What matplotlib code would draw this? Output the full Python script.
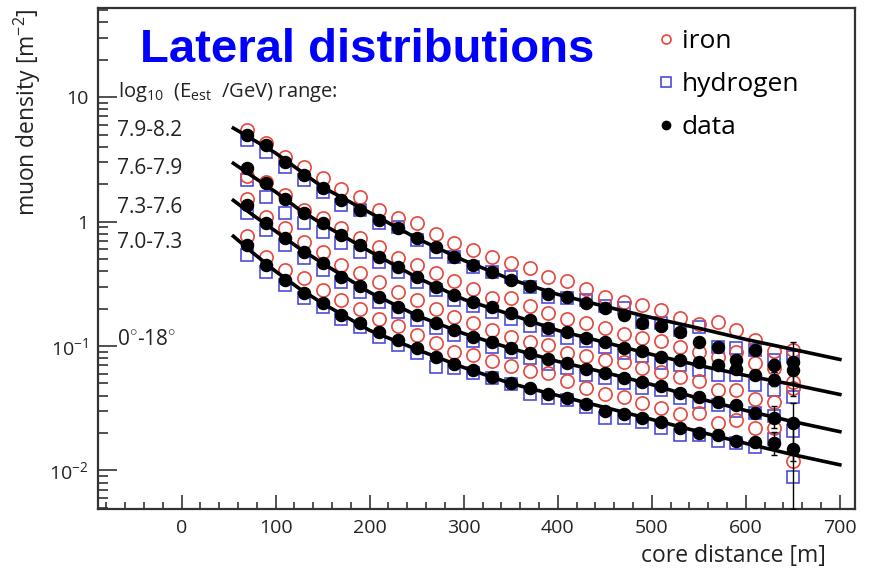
import matplotlib.pyplot as plt
from matplotlib.ticker import FixedLocator, MultipleLocator, LogLocator, NullFormatter, FixedFormatter
from matplotlib.lines import Line2D

plt.rcParams['font.family'] = ['Open Sans', 'DejaVu Sans']
plt.rcParams['mathtext.fontset'] = 'custom'
plt.rcParams['mathtext.rm'] = 'Open Sans'
plt.rcParams['mathtext.it'] = 'Open Sans:italic'
plt.rcParams['mathtext.default'] = 'rm'

# core distance of the points [m]
distance = [70, 90, 110, 130, 150, 170, 190, 210, 230, 250,
            270, 290, 310, 330, 350, 370, 390, 410, 430, 450,
            470, 490, 510, 530, 550, 570, 590, 610, 630, 650]

bin_labels = ['7.9-8.2', '7.6-7.9', '7.3-7.6', '7.0-7.3']

# measured muon density [m^-2], one list per energy bin
data_bin1 = [4.95, 4.11, 3.00, 2.36, 1.86, 1.48, 1.25, 1.02, 0.884, 0.734,
             0.622, 0.516, 0.445, 0.391, 0.337, 0.301, 0.260, 0.246, 0.220, 0.201,
             0.176, 0.152, 0.146, 0.129, 0.107, 0.0975, 0.0766, 0.0922, 0.0698, 0.0738]
data_bin2 = [2.69, 2.04, 1.51, 1.18, 0.97, 0.776, 0.645, 0.516, 0.429, 0.356,
             0.296, 0.255, 0.224, 0.204, 0.183, 0.161, 0.139, 0.129, 0.117, 0.107,
             0.0957, 0.0905, 0.081, 0.0766, 0.0738, 0.0698, 0.0648, 0.059, 0.0538, 0.0636]
data_bin3 = [1.35, 0.97, 0.734, 0.567, 0.462, 0.356, 0.301, 0.246, 0.204, 0.176,
             0.152, 0.1335, 0.119, 0.107, 0.0957, 0.0872, 0.078, 0.0724, 0.0648, 0.0602,
             0.0549, 0.051, 0.0473, 0.0423, 0.0386, 0.0352, 0.0333, 0.0292, 0.0266, 0.0239]
data_bin4 = [0.645, 0.445, 0.337, 0.265, 0.220, 0.176, 0.152, 0.129, 0.111, 0.0957,
             0.081, 0.0711, 0.0636, 0.0559, 0.050, 0.0456, 0.0415, 0.0379, 0.0339, 0.0303,
             0.0286, 0.0266, 0.0243, 0.0221, 0.0201, 0.0194, 0.0171, 0.0168, 0.0165, 0.015]

# iron simulation
iron_bin1 = [5.43, 4.27, 3.29, 2.74, 2.24, 1.82, 1.57, 1.23, 1.06, 0.97,
             0.79, 0.67, 0.588, 0.516, 0.462, 0.421, 0.356, 0.331, 0.285, 0.246,
             0.224, 0.212, 0.193, 0.169, 0.149, 0.155, 0.1335, 0.111, 0.0905, 0.0922]
iron_bin2 = [2.32, 2.07, 1.63, 1.25, 1.06, 0.884, 0.734, 0.622, 0.506, 0.445,
             0.384, 0.331, 0.285, 0.242, 0.242, 0.208, 0.183, 0.166, 0.152, 0.139,
             0.126, 0.115, 0.109, 0.0975, 0.0888, 0.081, 0.0888, 0.0724, 0.066, 0.051]
iron_bin3 = [1.51, 1.08, 0.884, 0.68, 0.567, 0.445, 0.384, 0.325, 0.27, 0.233,
             0.197, 0.172, 0.152, 0.1335, 0.119, 0.107, 0.101, 0.0872, 0.0825, 0.0766,
             0.0738, 0.066, 0.0613, 0.0559, 0.0528, 0.0439, 0.0439, 0.0372, 0.0352, 0.0456]
iron_bin4 = [0.762, 0.516, 0.406, 0.349, 0.28, 0.233, 0.197, 0.166, 0.144, 0.1217,
             0.105, 0.0888, 0.084, 0.0752, 0.0685, 0.0624, 0.0602, 0.0528, 0.0456, 0.0415,
             0.0386, 0.0346, 0.0315, 0.0286, 0.0292, 0.0239, 0.0252, 0.0221, 0.0221, 0.012]

# hydrogen simulation
hydro_bin1 = [4.51, 3.61, 2.74, 2.15, 1.72, 1.35, 1.23, 0.98, 0.90, 0.707,
              0.567, 0.516, 0.429, 0.391, 0.356, 0.296, 0.246, 0.242, 0.233, 0.208,
              0.201, 0.155, 0.152, 0.1335, 0.141, 0.0975, 0.0957, 0.0922, 0.0766, 0.081]
hydro_bin2 = [2.15, 1.57, 1.18, 0.98, 0.82, 0.67, 0.567, 0.470, 0.391, 0.325,
              0.280, 0.233, 0.208, 0.186, 0.166, 0.146, 0.1335, 0.117, 0.109, 0.0975,
              0.0872, 0.0825, 0.0724, 0.0698, 0.0636, 0.058, 0.058, 0.0482, 0.0439, 0.0386]
hydro_bin3 = [1.18, 0.851, 0.645, 0.506, 0.406, 0.325, 0.27, 0.224, 0.186, 0.161,
              0.139, 0.1217, 0.109, 0.0975, 0.0888, 0.0796, 0.0711, 0.066, 0.059, 0.0549,
              0.050, 0.0464, 0.0439, 0.0379, 0.0352, 0.0333, 0.0303, 0.0292, 0.0276, 0.0209]
hydro_bin4 = [0.536, 0.391, 0.307, 0.242, 0.204, 0.166, 0.141, 0.119, 0.101, 0.0872,
              0.0672, 0.066, 0.0602, 0.0549, 0.0491, 0.0415, 0.0379, 0.0365, 0.0321, 0.0266,
              0.0262, 0.0243, 0.0221, 0.0191, 0.0191, 0.0174, 0.0165, 0.0153, 0.018, 0.0089]

# fitted lateral distribution functions
fit_x = [55, 75, 100, 125, 150, 200, 250, 300, 350, 400, 450, 500, 550, 600, 650, 700]
fit_bin1 = [5.64, 4.60, 3.55, 2.59, 1.89, 1.18, 0.734, 0.488, 0.343, 0.26,
            0.208, 0.169, 0.139, 0.113, 0.094, 0.078]
fit_bin2 = [2.94, 2.32, 1.73, 1.25, 0.951, 0.577, 0.356, 0.237, 0.179, 0.1335,
            0.107, 0.0855, 0.0698, 0.058, 0.049, 0.0408]
fit_bin3 = [1.48, 1.14, 0.836, 0.61, 0.462, 0.27, 0.176, 0.126, 0.0957, 0.0752,
            0.0613, 0.049, 0.0379, 0.0303, 0.0247, 0.0205]
fit_bin4 = [0.762, 0.567, 0.398, 0.29, 0.220, 0.1335, 0.0939, 0.0672, 0.050, 0.040,
            0.0321, 0.0257, 0.0205, 0.0165, 0.0134, 0.0111]

# error bars of the last two data points
err_dist = [630, 650]
err_lo = [[0.062, 0.05], [0.048, 0.04], [0.022, 0.012], [0.0134, 0.0049]]
err_hi = [[0.078, 0.107], [0.062, 0.095], [0.033, 0.035], [0.0205, 0.024]]

data_all = [data_bin1, data_bin2, data_bin3, data_bin4]
iron_all = [iron_bin1, iron_bin2, iron_bin3, iron_bin4]
hydro_all = [hydro_bin1, hydro_bin2, hydro_bin3, hydro_bin4]
fit_all = [fit_bin1, fit_bin2, fit_bin3, fit_bin4]

red = '#e8453c'
blue = '#4b4bdc'
txt = '#222222'

fig = plt.figure(figsize=(8.7, 5.73), dpi=100)
ax = fig.add_axes([0.1126, 0.1117, 0.870, 0.8743])

for i in range(4):
    ax.plot(distance, hydro_all[i], 's', ms=9, mfc='none', mec=blue, mew=1.2, zorder=2)
    ax.plot(distance, iron_all[i], 'o', ms=9.5, mfc='none', mec=red, mew=1.2, zorder=3)
    ax.plot(fit_x, fit_all[i], '-', color='black', lw=2.6, zorder=4)
    d_last = [data_all[i][distance.index(x)] for x in err_dist]
    yerr = [[d - lo for d, lo in zip(d_last, err_lo[i])],
            [hi - d for d, hi in zip(d_last, err_hi[i])]]
    ax.errorbar(err_dist, d_last, yerr=yerr, fmt='none', ecolor='black',
                elinewidth=1.0, capsize=2, capthick=1.0, zorder=5)
    ax.plot(distance, data_all[i], 'o', ms=8.7, color='black', zorder=6)

ax.set_yscale('log')
ax.set_xlim(-89, 716)
ax.set_ylim(0.0049, 52)

ax.xaxis.set_major_locator(MultipleLocator(100))
ax.xaxis.set_minor_locator(MultipleLocator(20))
ax.yaxis.set_major_locator(FixedLocator([0.01, 0.1, 1, 10]))
ax.yaxis.set_major_formatter(FixedFormatter(['$10^{-2}$', '$10^{-1}$', '1', '10']))
ax.yaxis.set_minor_locator(LogLocator(base=10, subs=range(2, 10)))
ax.yaxis.set_minor_formatter(NullFormatter())

for s in ['top', 'right', 'left', 'bottom']:
    ax.spines[s].set_color('#333333')
    ax.spines[s].set_linewidth(1.6)
ax.tick_params(axis='both', which='both', direction='in', top=False, right=False,
               color='#333333', width=1.2, labelsize=14, labelcolor=txt)
ax.tick_params(axis='x', which='major', length=10, pad=7)
ax.tick_params(axis='x', which='minor', length=5)
ax.tick_params(axis='y', which='major', length=14, pad=7)
ax.tick_params(axis='y', which='minor', length=7)

ax.set_ylabel('muon density [m$^{-2}$]', fontsize=16.5, loc='top', labelpad=4, color=txt)
fig.text(826 / 870, 0.03, 'core distance [m]', fontsize=16.5, ha='right', va='center', color=txt)

# annotations on the left
ax.text(0.027, 0.822, r'log$_{10}$  (E$_{est}$  /GeV) range:', transform=ax.transAxes,
        fontsize=14.5, va='baseline', color=txt)
label_y = [0.7565, 0.680, 0.601, 0.531]
for lab, yy in zip(bin_labels, label_y):
    ax.text(0.025, yy, lab, transform=ax.transAxes, fontsize=15, va='center', color=txt)
ax.text(0.025, 0.327, r'0$^{\circ}$-18$^{\circ}$', transform=ax.transAxes,
        fontsize=15, va='baseline', color=txt)

fig.text(140 / 870, (573 - 62) / 573, 'Lateral distributions', fontsize=34,
         fontweight='bold', color='#0000ff', family='Liberation Sans', va='baseline')

handles = [Line2D([], [], ls='none', marker='o', ms=6.5, mfc='none', mec=red, mew=1.2),
           Line2D([], [], ls='none', marker='s', ms=6.5, mfc='none', mec=blue, mew=1.2),
           Line2D([], [], ls='none', marker='o', ms=6, color='black')]
ax.legend(handles, ['iron', 'hydrogen', 'data'], loc='upper left',
          bbox_to_anchor=(0.74, 0.958), frameon=False, fontsize=19,
          handlelength=0.6, handletextpad=0.3, labelspacing=0.68, borderaxespad=0,
          borderpad=0)

fig.savefig('out.png', dpi=100)
